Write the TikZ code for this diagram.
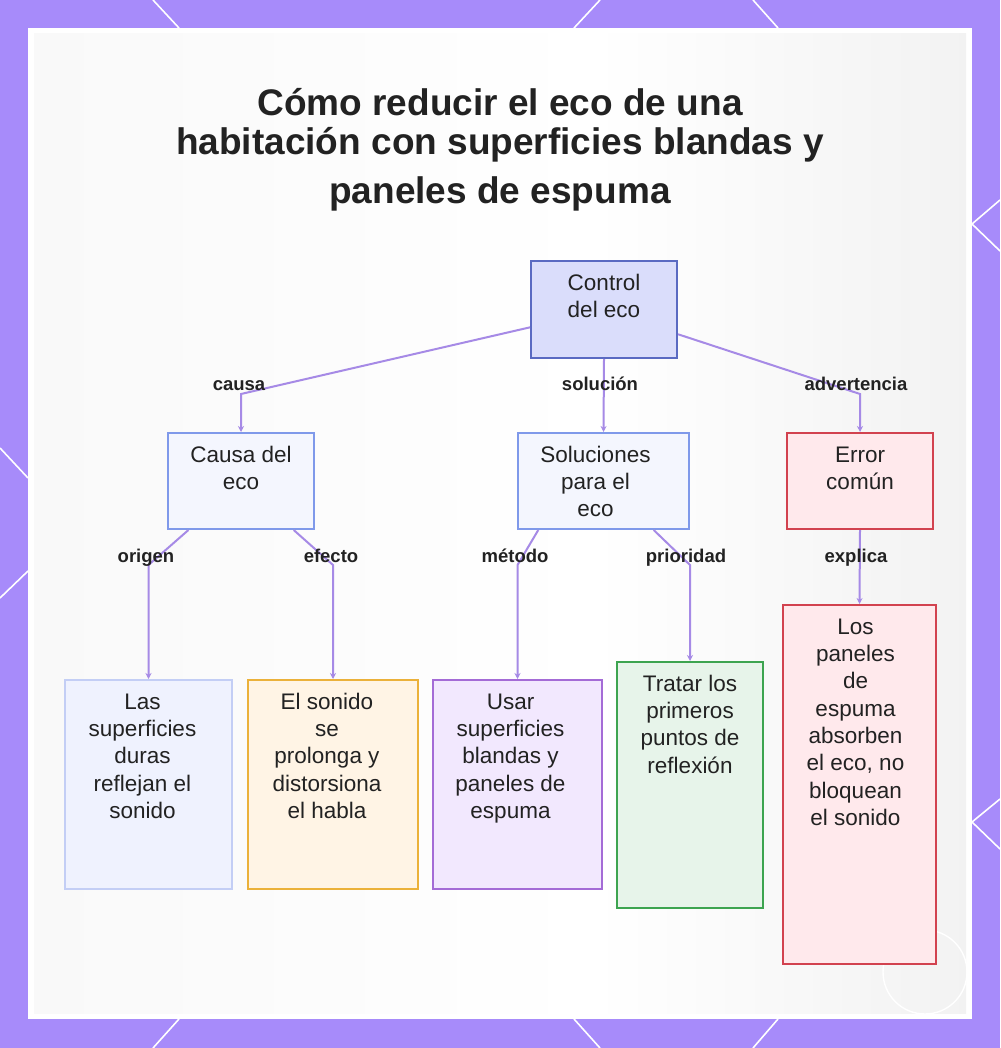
\documentclass[tikz,border=0pt]{standalone}
\usepackage{fontspec}
\setmainfont{Liberation Sans}
\usetikzlibrary{calc,arrows.meta}
\definecolor{framec}{HTML}{A78BFA}
\definecolor{connc}{HTML}{A68AE6}
\definecolor{ink}{HTML}{222222}
\definecolor{ctrlF}{HTML}{DADDFB}\definecolor{ctrlD}{HTML}{5A6AC2}
\definecolor{blueF}{HTML}{F4F6FE}\definecolor{blueD}{HTML}{7F99EA}
\definecolor{redF}{HTML}{FFE9EC}\definecolor{redD}{HTML}{D2424F}
\definecolor{lblueF}{HTML}{EFF2FE}\definecolor{lblueD}{HTML}{C3CEF5}
\definecolor{ambF}{HTML}{FFF4E5}\definecolor{ambD}{HTML}{EBB13A}
\definecolor{purF}{HTML}{F2E8FE}\definecolor{purD}{HTML}{A46BD6}
\definecolor{grnF}{HTML}{E7F4EA}\definecolor{grnD}{HTML}{3DA450}
\pgfdeclarehorizontalshading{bgsh}{100bp}{color(0bp)=(white!96!black); color(30bp)=(white!98!black); color(55bp)=(white); color(75bp)=(white!95!black); color(100bp)=(white!90!black)}
\begin{document}
\begin{tikzpicture}[x=1pt,y=-1pt,
  box/.style={draw, line width=2pt, inner sep=0pt, anchor=north west},
  txt/.style={anchor=north, inner sep=0pt, align=center, text=ink, font=\fontsize{22.5}{27.3}\selectfont},
  lbl/.style={anchor=base, inner sep=0pt, text=ink, font=\bfseries\fontsize{18.5}{20}\selectfont},
  conn/.style={draw=connc, line width=2pt, -{Stealth[length=6pt,width=6pt]}},
  deco/.style={draw=white, line width=1.6pt}
]
\useasboundingbox (0,0) rectangle (1000,1048);
% frame
\fill[framec] (0,0) rectangle (1000,1048);
\draw[deco] (153,0) -- (179,28);
\draw[deco] (600,0) -- (574,28);
\draw[deco] (753,0) -- (778,28);
\draw[deco] (179,1019) -- (153,1048);
\draw[deco] (574,1019) -- (600,1048);
\draw[deco] (778,1019) -- (753,1048);
\draw[deco] (0,448) -- (28,478);
\draw[deco] (28,571) -- (0,598);
\draw[deco] (1000,200) -- (972,224) -- (1000,251);
\draw[deco] (1000,799) -- (972,822) -- (1000,849);
\fill[white] (28,28) rectangle (972,1019);
\shade[shading=bgsh] (34,34) rectangle (966,1013);
\draw[white, line width=1.4pt] (925,972) circle[radius=42];

% title
\node[anchor=north, inner sep=0pt, align=center, text=ink, font=\bfseries\fontsize{37}{39}\selectfont] (title) at (500,88)
  {\strut Cómo reducir el eco de una\\habitación con superficies blandas y\\[10pt]paneles de espuma};

% boxes
\node[box, draw=ctrlD, fill=ctrlF, minimum width=146pt, minimum height=97pt] (ctrl) at (530,260) {};
\node[box, draw=blueD, fill=blueF, minimum width=146pt, minimum height=96pt] (causa) at (167,432) {};
\node[box, draw=blueD, fill=blueF, minimum width=171pt, minimum height=96pt] (sol) at (517,432) {};
\node[box, draw=redD, fill=redF, minimum width=146pt, minimum height=96pt] (err) at (786,432) {};
\node[box, draw=lblueD, fill=lblueF, minimum width=167pt, minimum height=209pt] (las) at (64,679) {};
\node[box, draw=ambD, fill=ambF, minimum width=170pt, minimum height=209pt] (son) at (247,679) {};
\node[box, draw=purD, fill=purF, minimum width=169pt, minimum height=209pt] (usar) at (432,679) {};
\node[box, draw=grnD, fill=grnF, minimum width=146pt, minimum height=246pt] (trat) at (616,661) {};
\node[box, draw=redD, fill=redF, minimum width=153pt, minimum height=359pt] (los) at (782,604) {};

% texts
\node[txt] (ctrlT) at ([yshift=-11pt]ctrl.north) {\strut Control\\del eco};
\node[txt] (causaT) at ([yshift=-11pt]causa.north) {\strut Causa del\\eco};
\node[txt] (solT) at ([xshift=-8pt,yshift=-11pt]sol.north) {\strut Soluciones\\para el\\eco};
\node[txt] (errT) at ([yshift=-11pt]err.north) {\strut Error\\común};
\node[txt] (lasT) at ([xshift=-6pt,yshift=-11pt]las.north) {\strut Las\\superficies\\duras\\reflejan el\\sonido};
\node[txt] (sonT) at ([xshift=-6pt,yshift=-11pt]son.north) {\strut El sonido\\se\\prolonga y\\distorsiona\\el habla};
\node[txt] (usarT) at ([xshift=-7pt,yshift=-11pt]usar.north) {\strut Usar\\superficies\\blandas y\\paneles de\\espuma};
\node[txt] (tratT) at ([yshift=-11pt]trat.north) {\strut Tratar los\\primeros\\puntos de\\reflexión};
\node[txt] (losT) at ([xshift=-4pt,yshift=-11pt]los.north) {\strut Los\\paneles\\de\\espuma\\absorben\\el eco, no\\bloquean\\el sonido};

% connectors
\draw[conn] ($(ctrl.north west)!0.68!(ctrl.south west)$) -- ([yshift=38pt]causa.north) -- (causa.north);
\draw[conn] (ctrl.south) -- (sol.north);
\draw[conn] ($(ctrl.north east)!0.75!(ctrl.south east)$) -- ([yshift=38pt]err.north) -- (err.north);
\draw[conn] ($(causa.south west)!0.145!(causa.south east)$) -- ([yshift=114pt]las.north) -- (las.north);
\draw[conn] ($(causa.south west)!0.856!(causa.south east)$) -- ([yshift=114pt]son.north) -- (son.north);
\draw[conn] ($(sol.south west)!0.123!(sol.south east)$) -- ([yshift=114pt]usar.north) -- (usar.north);
\draw[conn] ($(sol.south west)!0.79!(sol.south east)$) -- ([yshift=96pt]trat.north) -- (trat.north);
\draw[conn] (err.south) -- (los.north);

% labels
\node[lbl] (lcausa) at (239,390) {causa};
\node[lbl] (lsol) at (600,390) {solución};
\node[lbl] (ladv) at (856,390) {advertencia};
\node[lbl] (lorig) at (146,562) {origen};
\node[lbl] (lefec) at (331,562) {efecto};
\node[lbl] (lmet) at (515,562) {método};
\node[lbl] (lprio) at (686,562) {prioridad};
\node[lbl] (lexp) at (856,562) {explica};
\end{tikzpicture}
\end{document}
